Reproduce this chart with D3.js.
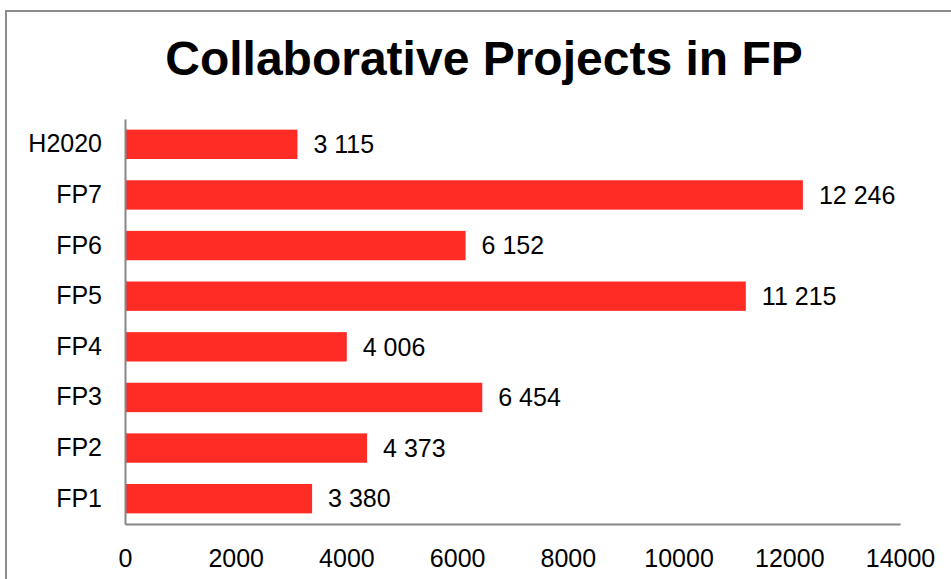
<!DOCTYPE html>
<html>
<head>
<meta charset="utf-8">
<script src="https://cdn.jsdelivr.net/npm/d3@7"></script>
<style>
    html, body { margin: 0; padding: 0; background: #fff; }
    svg { display: block; font-family: "Liberation Sans", Arial, sans-serif; }
</style>
</head>
<body>
<div id="chart"></div>
<script>
const categories = ['H2020', 'FP7', 'FP6', 'FP5', 'FP4', 'FP3', 'FP2', 'FP1'];
const projects = [3115, 12246, 6152, 11215, 4006, 6454, 4373, 3380];
const xTicks = [0, 2000, 4000, 6000, 8000, 10000, 12000, 14000];
const chartTitle = 'Collaborative Projects in FP';

const width = 951;
const height = 579;
const margin = { top: 119, right: 51, bottom: 55, left: 125 };

const svg = d3.select('#chart')
    .append('svg')
    .attr('width', width)
    .attr('height', height);

// outer chart frame (cut off at right and bottom)
svg.append('rect')
    .attr('x', 6)
    .attr('y', 11)
    .attr('width', width + 20)
    .attr('height', height + 20)
    .attr('fill', 'none')
    .attr('stroke', '#8c8c8c')
    .attr('stroke-width', 2);

svg.append('text')
    .attr('x', 484)
    .attr('y', 75)
    .attr('text-anchor', 'middle')
    .style('font-size', '48px')
    .style('font-weight', 'bold')
    .text(chartTitle);

const xScale = d3.scaleLinear()
    .domain([0, 14000])
    .range([margin.left, width - margin.right]);

const yScale = d3.scaleBand()
    .domain(categories)
    .range([margin.top, height - margin.bottom])
    .paddingInner(0.42)
    .paddingOuter(0.21);

const fmt = v => d3.format(',')(v).replace(/,/g, ' ');

svg.selectAll('.bar')
    .data(categories)
    .enter()
    .append('rect')
    .attr('class', 'bar')
    .attr('x', xScale(0))
    .attr('y', d => yScale(d))
    .attr('width', (d, i) => xScale(projects[i]) - xScale(0))
    .attr('height', yScale.bandwidth())
    .attr('fill', '#ff2b25');

svg.selectAll('.value')
    .data(categories)
    .enter()
    .append('text')
    .attr('class', 'value')
    .attr('x', (d, i) => xScale(projects[i]) + 16)
    .attr('y', d => yScale(d) + yScale.bandwidth() / 2)
    .attr('dy', '0.35em')
    .style('font-size', '25px')
    .text((d, i) => fmt(projects[i]));

// axes
const xAxis = svg.append('g')
    .attr('transform', `translate(0,${height - margin.bottom})`)
    .call(d3.axisBottom(xScale).tickValues(xTicks).tickSize(0).tickPadding(25).tickFormat(d3.format('d')));

const yAxis = svg.append('g')
    .attr('transform', `translate(${margin.left},0)`)
    .call(d3.axisLeft(yScale).tickSize(0).tickPadding(23));

[xAxis, yAxis].forEach(ax => {
    ax.select('.domain').attr('stroke', '#868686').attr('stroke-width', 2);
    ax.selectAll('text')
        .style('font-size', '25px')
        .style('font-family', '"Liberation Sans", Arial, sans-serif')
        .attr('fill', '#000');
});
</script>
</body>
</html>
